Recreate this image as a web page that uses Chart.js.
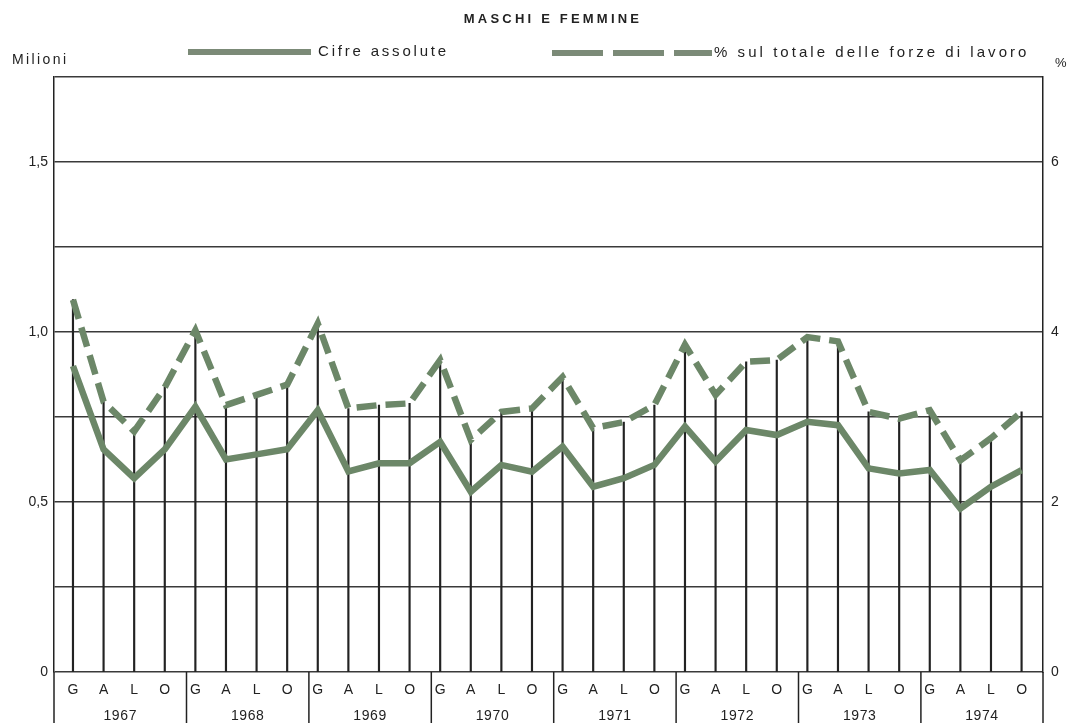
<!DOCTYPE html>
<html>
<head>
<meta charset="utf-8">
<script src="https://cdn.jsdelivr.net/npm/chart.js@4.4.1/dist/chart.umd.min.js"></script>
<style>
html,body{margin:0;padding:0;background:#fff;}
canvas{display:block;}
</style>
</head>
<body>
<canvas id="c" width="1067" height="723"></canvas>
<script>
// ---- data ----
const quarterLabels = ['G', 'A', 'L', 'O'];
const years = ['1967', '1968', '1969', '1970', '1971', '1972', '1973', '1974'];
// Cifre assolute (milioni)
const absoluteMillions = [
  0.90, 0.655, 0.57, 0.655,
  0.78, 0.625, 0.64, 0.655,
  0.77, 0.59, 0.614, 0.614,
  0.677, 0.53, 0.609, 0.589,
  0.663, 0.545, 0.57, 0.609,
  0.722, 0.619, 0.712, 0.697,
  0.736, 0.726, 0.599, 0.584,
  0.594, 0.481, 0.545, 0.594
];
// % sul totale delle forze di lavoro
const percentOfLabourForce = [
  4.38, 3.18, 2.83, 3.35,
  4.02, 3.14, 3.26, 3.38,
  4.10, 3.10, 3.14, 3.16,
  3.67, 2.73, 3.06, 3.10,
  3.47, 2.87, 2.94, 3.14,
  3.85, 3.26, 3.65, 3.67,
  3.94, 3.89, 3.06, 2.98,
  3.08, 2.49, 2.75, 3.06
];
const leftTickValues = [0, 0.25, 0.5, 0.75, 1, 1.25, 1.5, 1.75];
const leftTickText   = ['0', '', '0,5', '', '1,0', '', '1,5', ''];
const rightTickValues = [0, 2, 4, 6];
const rightTickText   = ['0', '2', '4', '6'];
const titleText = 'MASCHI E FEMMINE';
const leftUnit = 'Milioni';
const rightUnit = '%';
const legendSolid = 'Cifre assolute';
const legendDashed = '% sul totale delle forze di lavoro';

// ---- style ----
const GREEN = '#6c8768';
const LEGEND_GREEN = '#7b8a77';
const INK = '#222';
const FONT = 'Liberation Sans, Arial, Helvetica, sans-serif';

Chart.defaults.font.family = FONT;
Chart.defaults.font.size = 14;
Chart.defaults.color = INK;

const pts = arr => arr.map((v, i) => ({ x: i, y: v }));

const overlay = {
  id: 'overlay',
  afterDraw(chart) {
    const ctx = chart.ctx;
    const xs = chart.scales.x;
    const area = chart.chartArea;
    const H = chart.height;
    ctx.save();
    // year boxes under the axis
    const bounds = years.map((_, k) => k === 0 ? area.left : xs.getPixelForValue(4 * k - 0.29));
    bounds.push(area.right);
    ctx.strokeStyle = INK;
    ctx.lineWidth = 1.5;
    bounds.forEach(b => {
      ctx.beginPath();
      ctx.moveTo(b, area.bottom);
      ctx.lineTo(b, H);
      ctx.stroke();
    });
    ctx.fillStyle = INK;
    ctx.font = '14px ' + FONT;
    ctx.textAlign = 'center';
    ctx.textBaseline = 'middle';
    try { ctx.letterSpacing = '0.6px'; } catch (e) {}
    years.forEach((y, k) => {
      ctx.fillText(y, (bounds[k] + bounds[k + 1]) / 2, 716);
    });

    // title
    ctx.font = 'bold 13px ' + FONT;
    try { ctx.letterSpacing = '3.2px'; } catch (e) {}
    ctx.textAlign = 'center';
    ctx.fillText(titleText, 553, 19);

    // units
    ctx.font = '14px ' + FONT;
    try { ctx.letterSpacing = '2.4px'; } catch (e) {}
    ctx.textAlign = 'left';
    ctx.fillText(leftUnit, 12, 60);
    try { ctx.letterSpacing = '0px'; } catch (e) {}
    ctx.font = '13px ' + FONT;
    ctx.fillText(rightUnit, 1055, 63);

    // legend
    ctx.lineWidth = 6;
    ctx.strokeStyle = LEGEND_GREEN;
    ctx.beginPath();
    ctx.moveTo(188, 52);
    ctx.lineTo(311, 52);
    ctx.stroke();
    ctx.setLineDash([51, 10]);
    ctx.beginPath();
    ctx.moveTo(552, 53);
    ctx.lineTo(712, 53);
    ctx.stroke();
    ctx.setLineDash([]);
    ctx.font = '15px ' + FONT;
    try { ctx.letterSpacing = '2.8px'; } catch (e) {}
    ctx.fillStyle = INK;
    ctx.fillText(legendSolid, 318, 52);
    try { ctx.letterSpacing = '3.05px'; } catch (e) {}
    ctx.fillText(legendDashed, 714, 53);
    ctx.restore();
  }
};

new Chart(document.getElementById('c'), {
  type: 'bar',
  data: {
    datasets: [
      {
        type: 'line',
        label: legendSolid,
        data: pts(absoluteMillions),
        yAxisID: 'y',
        borderColor: GREEN,
        borderWidth: 6.5,
        pointRadius: 0,
        tension: 0,
        borderJoinStyle: 'miter',
        order: 1
      },
      {
        type: 'line',
        label: legendDashed,
        data: pts(percentOfLabourForce),
        yAxisID: 'y1',
        borderColor: GREEN,
        borderWidth: 6.5,
        borderDash: [20, 9],
        pointRadius: 0,
        tension: 0,
        borderJoinStyle: 'miter',
        order: 2
      },
      {
        type: 'bar',
        label: 'drop',
        data: pts(percentOfLabourForce),
        yAxisID: 'y1',
        backgroundColor: INK,
        barThickness: 1.5,
        order: 3
      }
    ]
  },
  options: {
    responsive: false,
    animation: false,
    devicePixelRatio: 1,
    layout: { padding: { top: 77, left: 0, right: 0, bottom: 0 } },
    plugins: { legend: { display: false }, tooltip: { enabled: false }, title: { display: false } },
    scales: {
      x: {
        type: 'linear',
        position: 'bottom',
        min: -0.62,
        max: 31.7,
        offset: false,
        grid: { display: false, drawTicks: false },
        border: { display: false },
        afterBuildTicks: s => { s.ticks = absoluteMillions.map((_, i) => ({ value: i })); },
        afterFit: s => { s.height = 51; },
        ticks: {
          autoSkip: false,
          maxRotation: 0,
          minRotation: 0,
          padding: 10,
          font: { size: 14 },
          color: INK,
          callback: v => quarterLabels[((v % 4) + 4) % 4]
        }
      },
      y: {
        position: 'left',
        min: 0,
        max: 1.75,
        afterBuildTicks: s => { s.ticks = leftTickValues.map(v => ({ value: v })); },
        afterFit: s => { s.width = 54; },
        grid: { color: '#3a3a3a', lineWidth: 1.5, drawTicks: false },
        border: { display: true, color: INK, width: 1.5 },
        ticks: {
          padding: 6,
          font: { size: 14 },
          color: INK,
          callback: v => { const k = leftTickValues.indexOf(v); return k >= 0 ? leftTickText[k] : ''; }
        }
      },
      y1: {
        position: 'right',
        min: 0,
        max: 7,
        afterBuildTicks: s => { s.ticks = rightTickValues.map(v => ({ value: v })); },
        afterFit: s => { s.width = 24; },
        grid: { display: false, drawTicks: false },
        border: { display: true, color: INK, width: 1.5 },
        ticks: {
          padding: 8,
          font: { size: 14 },
          color: INK,
          callback: v => { const k = rightTickValues.indexOf(v); return k >= 0 ? rightTickText[k] : ''; }
        }
      }
    }
  },
  plugins: [overlay]
});
</script>
</body>
</html>
